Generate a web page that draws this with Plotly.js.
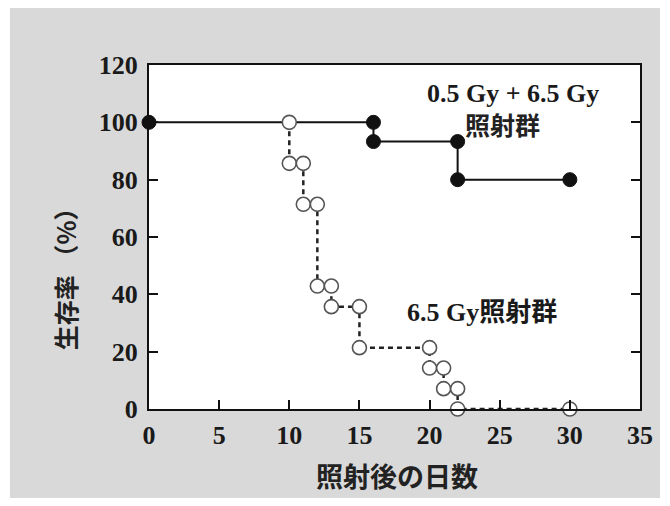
<!DOCTYPE html>
<html>
<head>
<meta charset="utf-8">
<script src="https://cdn.plot.ly/plotly-3.0.1.min.js"></script>
<style>
html,body{margin:0;padding:0;background:#ffffff;width:670px;height:506px;overflow:hidden;}
#chart{position:absolute;left:10px;top:8px;width:650px;height:490px;}
</style>
</head>
<body>
<div id="chart"></div>
<script>
// 0.5 Gy + 6.5 Gy group (filled circles)
const comboDays = [0, 16, 16, 22, 22, 30];
const comboSurvival = [100, 100, 93.3, 93.3, 80, 80];
// 6.5 Gy group (open circles)
const singleDays = [10, 10, 11, 11, 12, 12, 13, 13, 15, 15, 20, 20, 21, 21, 22, 22, 30];
const singleSurvival = [100, 85.7, 85.7, 71.4, 71.4, 42.9, 42.9, 35.7, 35.7, 21.4, 21.4, 14.3, 14.3, 7.1, 7.1, 0, 0];
const xTicks = [0, 5, 10, 15, 20, 25, 30, 35];
const yTicks = [0, 20, 40, 60, 80, 100, 120];
const labelCombo = ["0.5 Gy + 6.5 Gy", "照射群"];
const labelSingle = "6.5 Gy照射群";
const xTitle = "照射後の日数";
const yTitle = "生存率 （%）";

const serif = '"Liberation Serif", "Noto Sans CJK JP", serif';
const cjk = '"Noto Sans CJK JP", "Liberation Serif", sans-serif';

const traces = [
  {
    x: comboDays, y: comboSurvival, type: 'scatter', mode: 'lines+markers',
    line: {color: '#111', width: 2},
    marker: {color: '#111', size: 14, line: {color: '#111', width: 1}},
    hoverinfo: 'skip', cliponaxis: false
  },
  {
    x: singleDays, y: singleSurvival, type: 'scatter', mode: 'lines+markers',
    line: {color: '#222', width: 2.5, dash: '5px,4px'},
    marker: {color: '#ffffff', size: 14, line: {color: '#555', width: 1.6}},
    hoverinfo: 'skip', cliponaxis: false
  }
];

const tickFont = {family: serif, size: 26, color: '#1a1a1a', weight: 'bold'};

const layout = {
  width: 650, height: 490,
  margin: {l: 139, r: 20, t: 57, b: 89},
  paper_bgcolor: '#d9d9d9',
  plot_bgcolor: '#ffffff',
  showlegend: false,
  font: {family: serif, color: '#111', size: 19},
  xaxis: {
    range: [0, 35], tickvals: xTicks, ticktext: xTicks.map(String),
    showline: true, linecolor: '#111', linewidth: 2, mirror: true,
    ticks: 'inside', ticklen: 9, tickwidth: 2, tickcolor: '#111',
    showgrid: false, zeroline: false,
    tickfont: tickFont,
    ticklabelstandoff: 2
  },
  yaxis: {
    range: [0, 120], tickvals: yTicks, ticktext: yTicks.map(String),
    showline: true, linecolor: '#111', linewidth: 2, mirror: 'ticks',
    ticks: 'inside', ticklen: 9, tickwidth: 2, tickcolor: '#111',
    showgrid: false, zeroline: false,
    tickfont: tickFont,
    ticklabelstandoff: 4
  },
  annotations: [
    {x: 19.67, y: 110.2, xref: 'x', yref: 'y', text: labelCombo[0], showarrow: false,
     xanchor: 'left', yanchor: 'middle', font: {family: serif, size: 26, color: '#1a1a1a', weight: 'bold'}},
    {x: 25.2, y: 99.4, xref: 'x', yref: 'y', text: labelCombo[1], showarrow: false,
     xanchor: 'center', yanchor: 'middle', font: {family: cjk, size: 25, color: '#222', weight: 'bold'}},
    {x: 18.25, y: 33.5, xref: 'x', yref: 'y', text: labelSingle, showarrow: false,
     xanchor: 'left', yanchor: 'middle', font: {family: serif, size: 26, color: '#1a1a1a', weight: 'bold'}},
    {x: 0.505, y: -0.192, xref: 'paper', yref: 'paper', text: xTitle, showarrow: false,
     xanchor: 'center', yanchor: 'middle', font: {family: cjk, size: 27, color: '#222', weight: 'bold'}},
    {x: -0.171, y: 0.395, xref: 'paper', yref: 'paper', text: yTitle, showarrow: false, textangle: -90,
     xanchor: 'center', yanchor: 'middle', font: {family: cjk, size: 25, color: '#222', weight: 'bold'}}
  ]
};

Plotly.newPlot('chart', traces, layout, {displayModeBar: false, staticPlot: true});
</script>
</body>
</html>
